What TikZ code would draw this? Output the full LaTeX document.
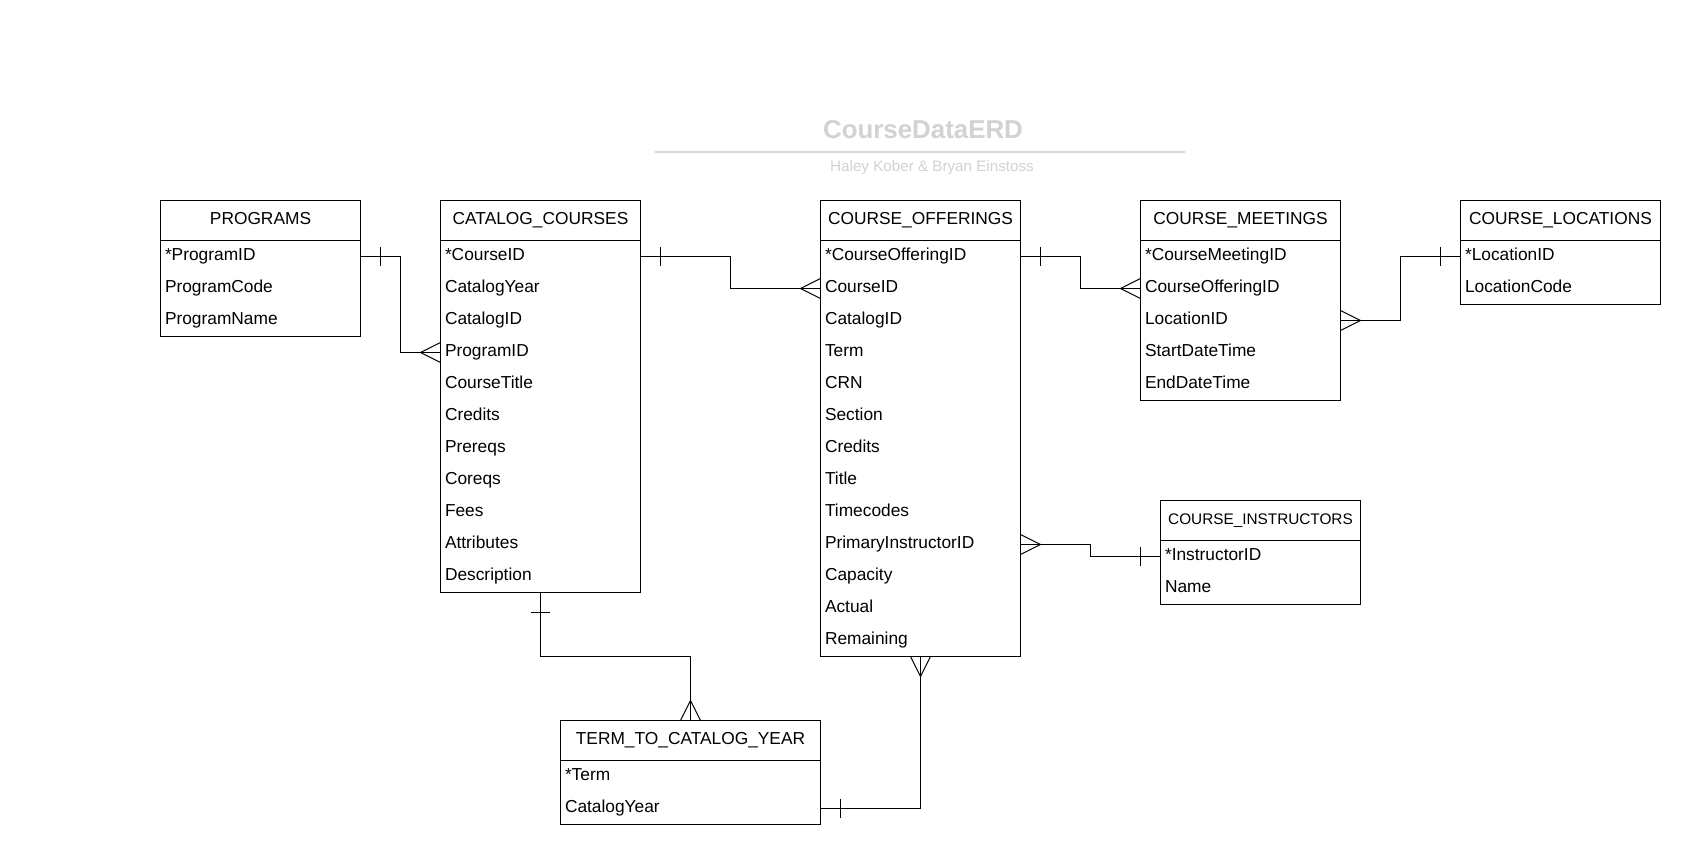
\documentclass[tikz,border=0pt]{standalone}
\usepackage{fontspec}
\setmainfont{Liberation Sans}
\usetikzlibrary{calc}
\definecolor{titlegray}{RGB}{210,210,210}
\definecolor{rulegray}{RGB}{215,215,215}
\tikzset{
  erbox/.style={draw=black, line width=0.75pt, inner sep=0pt, outer sep=0pt},
  erhead/.style={inner sep=0pt, outer sep=0pt, font=\fontsize{13}{15}\selectfont},
  errow/.style={inner sep=0pt, outer sep=0pt, font=\fontsize{13}{15}\selectfont},
  conn/.style={draw=black, line width=0.75pt},
}
% name, x, y, width, nrows, header, rows
\newcommand{\ertable}[7]{%
  \pgfmathsetmacro{\erh}{(40+32*#5)*0.75}%
  \pgfmathsetmacro{\erw}{#4*0.75}%
  \node[erbox, minimum width=\erw pt, minimum height=\erh pt, anchor=north west] (#1) at (#2,#3) {};
  \node[erhead, anchor=base] (#1-h) at (#2+#4/2, #3+23.8) {#6};
  \draw[erbox] (#2,#3+40) -- (#2+#4,#3+40);
  \foreach \t [count=\i] in {#7} {
    \node[errow, anchor=base west] (#1-\i) at (#2+4.5, #3+40+32*\i-32+20.2) {\t};
    \coordinate (#1-c\i) at (#2, #3+40+32*\i-16);
    \coordinate (#1-d\i) at (#2+#4, #3+40+32*\i-16);
  }
}
\newcommand{\tickh}[2]{\draw[conn] ($(#1)+(#2,-9.5)$) -- ($(#1)+(#2,9.5)$);}
\newcommand{\tickv}[2]{\draw[conn] ($(#1)+(-9.5,#2)$) -- ($(#1)+(9.5,#2)$);}
\newcommand{\crowh}[2]{\draw[conn] ($(#1)+(0,-10)$) -- ($(#1)+(#2,0)$) -- ($(#1)+(0,10)$);}
\newcommand{\crowv}[2]{\draw[conn] ($(#1)+(-10,0)$) -- ($(#1)+(0,#2)$) -- ($(#1)+(10,0)$);}
\begin{document}
\begin{tikzpicture}[x=0.75pt, y=-0.75pt]
\fill[white] (0,0) rectangle (1700,864);
\useasboundingbox (0,0) rectangle (1700,864);

% title
\node[font=\bfseries\fontsize{19.4}{22}\selectfont, text=titlegray, anchor=base, inner sep=0pt] (title) at (923,138.3) {CourseDataERD};
\draw[rulegray, line width=1.5pt] (655,151.5) -- (1185,151.5);
\node[font=\fontsize{11.4}{13}\selectfont, text=titlegray, anchor=base, inner sep=0pt] (subtitle) at (932,171) {Haley Kober \& Bryan Einstoss};

% tables
\ertable{prog}{160.5}{200.5}{200}{3}{PROGRAMS}{*ProgramID,ProgramCode,ProgramName}
\ertable{cc}{440.5}{200.5}{200}{11}{CATALOG\_COURSES}{*CourseID,CatalogYear,CatalogID,ProgramID,CourseTitle,Credits,Prereqs,Coreqs,Fees,Attributes,Description}
\ertable{co}{820.5}{200.5}{200}{13}{COURSE\_OFFERINGS}{*CourseOfferingID,CourseID,CatalogID,Term,CRN,Section,Credits,Title,Timecodes,PrimaryInstructorID,Capacity,Actual,Remaining}
\ertable{cm}{1140.5}{200.5}{200}{5}{COURSE\_MEETINGS}{*CourseMeetingID,CourseOfferingID,LocationID,StartDateTime,EndDateTime}
\ertable{cl}{1460.5}{200.5}{200}{2}{COURSE\_LOCATIONS}{*LocationID,LocationCode}
\ertable{ci}{1160.5}{500.5}{200}{2}{{\fontsize{11.5}{13}\selectfont COURSE\_INSTRUCTORS}}{*InstructorID,Name}
\ertable{tt}{560.5}{720.5}{260}{2}{TERM\_TO\_CATALOG\_YEAR}{*Term,CatalogYear}

% connectors
\draw[conn] (prog-d1) -| ($(prog-d1)!.5!(cc-c4)$) |- (cc-c4);
\tickh{prog-d1}{20}
\crowh{cc-c4}{-20}

\draw[conn] (cc-d1) -| ($(cc-d1)!.5!(co-c2)$) |- (co-c2);
\tickh{cc-d1}{20}
\crowh{co-c2}{-20}

\draw[conn] (co-d1) -| ($(co-d1)!.5!(cm-c2)$) |- (cm-c2);
\tickh{co-d1}{20}
\crowh{cm-c2}{-20}

\draw[conn] (cm-d3) -| ($(cm-d3)!.5!(cl-c1)$) |- (cl-c1);
\crowh{cm-d3}{20}
\tickh{cl-c1}{-20}

\draw[conn] (co-d10) -| ($(co-d10)!.5!(ci-c1)$) |- (ci-c1);
\crowh{co-d10}{20}
\tickh{ci-c1}{-20}

\draw[conn] (cc.south) |- ($(cc.south)!.5!(tt.north)$) -| (tt.north);
\tickv{cc.south}{20}
\crowv{tt.north}{-20}

\draw[conn] (co.south) |- (tt-d2);
\crowv{co.south}{20}
\tickh{tt-d2}{20}
\end{tikzpicture}
\end{document}
